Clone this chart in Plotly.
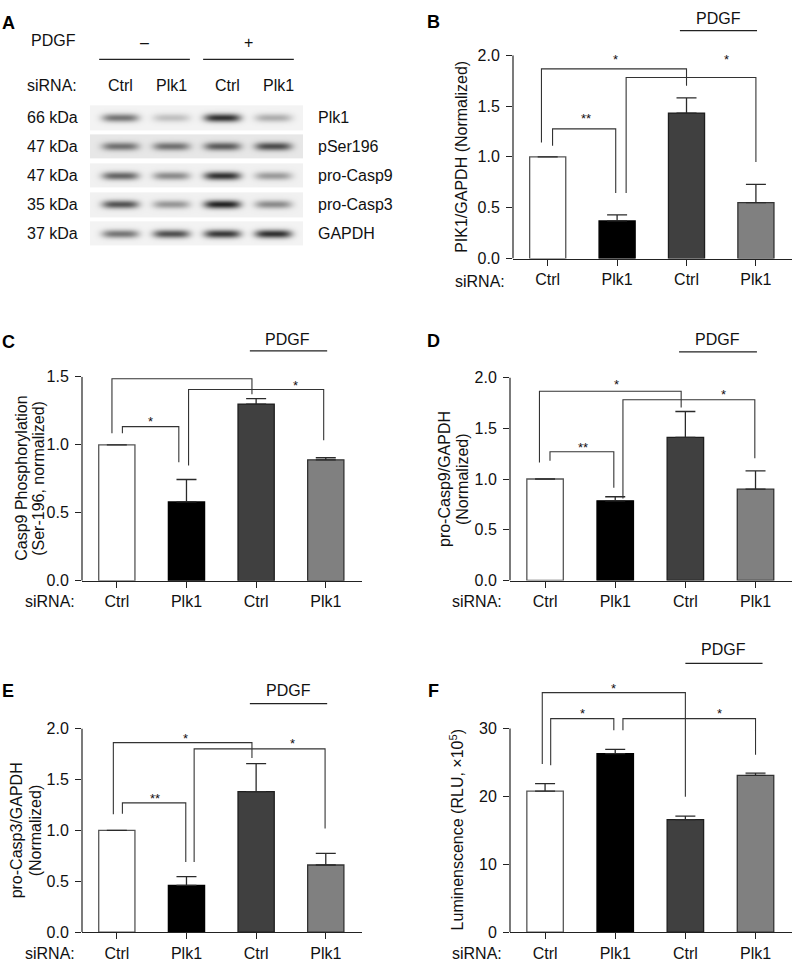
import numpy as np
import plotly.graph_objects as go

W, H = 792, 972
FONT = "Liberation Sans, Arial, Helvetica, sans-serif"
TXT = "#111111"

# ---------------- data ----------------
categories = ["Ctrl", "Plk1", "Ctrl", "Plk1"]
bar_fill = ["#ffffff", "#000000", "#404040", "#808080"]
bar_edge = ["#555555", "#000000", "#1e1e1e", "#333333"]

b_values = [1.00, 0.37, 1.43, 0.55]
b_err = [None, 0.06, 0.15, 0.18]
c_values = [1.00, 0.58, 1.30, 0.89]
c_err = [None, 0.165, 0.04, 0.015]
d_values = [1.00, 0.785, 1.41, 0.90]
d_err = [None, 0.04, 0.255, 0.18]
e_values = [1.00, 0.46, 1.38, 0.66]
e_err = [None, 0.085, 0.275, 0.115]
f_values = [20.8, 26.3, 16.6, 23.1]
f_err = [1.1, 0.65, 0.5, 0.35]

# brackets: (x_left, x_right, y_bar, y_leg_left, y_leg_right, star_x, star_y, label)
b_brackets = [(-0.09, 2.00, 1.865, 1.14, 1.70, 0.98, 2.00, "*"),
              (1.13, 3.00, 1.780, 0.645, 0.95, 2.57, 2.00, "*"),
              (0.07, 0.98, 1.275, 1.11, 0.645, 0.55, 1.42, "**")]
c_brackets = [(-0.07, 1.94, 1.486, 1.086, 1.371, 0.98, 1.553, "*"),
              (1.03, 2.97, 1.407, 0.848, 1.033, 2.56, 1.467, "*"),
              (0.08, 0.89, 1.134, 1.086, 0.872, 0.48, 1.202, "*")]
d_brackets = [(-0.08, 1.94, 1.865, 1.162, 1.704, 1.02, 1.969, "*"),
              (1.11, 2.99, 1.781, 0.807, 1.204, 2.55, 1.872, "*"),
              (0.07, 0.98, 1.268, 1.181, 0.914, 0.54, 1.349, "**")]
e_brackets = [(-0.05, 1.94, 1.861, 1.157, 1.711, 0.99, 1.942, "*"),
              (1.11, 2.99, 1.800, 0.689, 1.019, 2.52, 1.887, "*"),
              (0.08, 0.99, 1.270, 1.164, 0.689, 0.55, 1.350, "**")]
f_brackets = [(-0.04, 2.00, 35.3, 24.8, 19.97, 0.98, 36.5, "*"),
              (0.08, 0.98, 31.46, 24.6, 29.77, 0.54, 32.76, "*"),
              (1.11, 3.00, 31.46, 29.77, 26.15, 2.49, 32.76, "*")]

norm_ticks = [0, 0.5, 1.0, 1.5, 2.0]
c_ticks = [0, 0.5, 1.0, 1.5]
f_ticks = [0, 10, 20, 30]

b_title = ["PIK1/GAPDH (Normalized)"]
c_title = ["Casp9 Phosphorylation", "(Ser-196, normalized)"]
d_title = ["pro-Casp9/GAPDH", "(Normalized)"]
e_title = ["pro-Casp3/GAPDH", "(Normalized)"]
f_title = ["Luminenscence (RLU, ×10<sup>5</sup>)"]

# western blot (panel A)
blot_proteins = ["Plk1", "pSer196", "pro-Casp9", "pro-Casp3", "GAPDH"]
blot_kda = ["66 kDa", "47 kDa", "47 kDa", "35 kDa", "37 kDa"]
lane_sirna = ["Ctrl", "Plk1", "Ctrl", "Plk1"]
pdgf_groups = ["–", "+"]
band_intensity = [
    [0.55, 0.22, 0.85, 0.30],
    [0.55, 0.55, 0.65, 0.72],
    [0.62, 0.45, 0.85, 0.38],
    [0.70, 0.40, 0.92, 0.45],
    [0.55, 0.72, 0.82, 0.86],
]
strip_background = [0.05, 0.10, 0.06, 0.06, 0.05]

# ---------------- helpers ----------------
def fx(p):
    return p / W


def fy(p):
    return 1 - p / H


fig = go.Figure()
shapes = []
annotations = []


def text(x, y, s, xref="paper", yref="paper", size=16, xanchor="center", angle=0, bold=False, yshift=0):
    annotations.append(dict(x=x, y=y, xref=xref, yref=yref, text=f"<b>{s}</b>" if bold else s,
                            showarrow=False, xanchor=xanchor, yanchor="middle", textangle=angle,
                            yshift=yshift, font=dict(family=FONT, size=size,
                                                     color="#000" if bold else TXT)))


panels = [
    dict(letter="B", n="", vals=b_values, err=b_err, br=b_brackets, ticks=norm_ticks, fmt=".1f",
         xl=513, xr=792, y0=255, ppu=103.5, top=2.0, title=b_title, tx=[462], letter_xy=(433, 14),
         pdgf=(1.905, 3.016, 2.46, 23, 11), sirna_xy=(480, 278)),
    dict(letter="C", n="2", vals=c_values, err=c_err, br=c_brackets, ticks=c_ticks, fmt=".1f",
         xl=82, xr=362, y0=583, ppu=138.4, top=1.5, title=c_title, tx=[22, 39], letter_xy=(8, 340),
         pdgf=(1.91, 3.02, 2.45, 349, 337), sirna_xy=(50, 604)),
    dict(letter="D", n="3", vals=d_values, err=d_err, br=d_brackets, ticks=norm_ticks, fmt=".1f",
         xl=510, xr=792, y0=582.7, ppu=103.3, top=2.0, title=d_title, tx=[444, 462], letter_xy=(433, 339),
         pdgf=(1.91, 3.02, 2.46, 350, 337), sirna_xy=(477, 604)),
    dict(letter="E", n="4", vals=e_values, err=e_err, br=e_brackets, ticks=norm_ticks, fmt=".1f",
         xl=82, xr=362, y0=940.7, ppu=103.7, top=2.0, title=e_title, tx=[16, 35], letter_xy=(8, 695),
         pdgf=(1.91, 3.02, 2.47, 708, 695), sirna_xy=(50, 962)),
    dict(letter="F", n="5", vals=f_values, err=f_err, br=f_brackets, ticks=f_ticks, fmt="d",
         xl=510, xr=792, y0=940.7, ppu=6.91, top=37.0, title=f_title, tx=[457], letter_xy=(433, 695),
         pdgf=(2.0, 3.1, 2.54, 667, 653), sirna_xy=(477, 962)),
]

layout_axes = {}
for p in panels:
    n = p["n"]
    xa, ya = "x" + n, "y" + n
    xkey, ykey = "xaxis" + n, "yaxis" + n
    fig.add_trace(go.Bar(
        x=list(range(len(categories))), y=p["vals"], xaxis=xa, yaxis=ya, width=0.52,
        marker=dict(color=bar_fill, line=dict(color=bar_edge, width=1.3)),
        error_y=dict(type="data", symmetric=False, array=p["err"],
                     arrayminus=[0 if e is not None else None for e in p["err"]],
                     color="#2a2a2a", thickness=1.3, width=10),
        showlegend=False, hoverinfo="skip"))
    ymax_tick = p["ticks"][-1]
    top_px = p["y0"] - p["ppu"] * p["top"]
    layout_axes[xkey] = dict(
        domain=[fx(p["xl"]), fx(p["xr"])], range=[-0.5, 3.52], anchor=ya,
        tickvals=list(range(len(categories))), ticktext=categories,
        ticks="outside", ticklen=6, tickwidth=1.2, tickcolor="#222",
        showline=True, linecolor="#222", linewidth=1.2, showgrid=False, zeroline=False,
        tickfont=dict(family=FONT, size=16, color=TXT), ticklabelstandoff=0, fixedrange=True)
    layout_axes[ykey] = dict(
        domain=[fy(p["y0"]), fy(top_px)], range=[0, p["top"]], anchor=xa,
        tickvals=p["ticks"], tickformat=p["fmt"],
        ticks="outside", ticklen=6, tickwidth=1.2, tickcolor="#222",
        showline=False, showgrid=False, zeroline=False,
        tickfont=dict(family=FONT, size=16, color=TXT), ticklabelstandoff=3, fixedrange=True)
    # y-axis line from 0 to the last tick
    shapes.append(dict(type="line", xref=xa + " domain", yref=ya, x0=0, x1=0, y0=0, y1=ymax_tick,
                       line=dict(color="#222", width=1.2)))
    # significance brackets
    for (x0, x1, yb, l0, l1, sx, sy, lab) in p["br"]:
        shapes.append(dict(type="path", xref=xa, yref=ya,
                           path=f"M {x0},{l0} L {x0},{yb} L {x1},{yb} L {x1},{l1}",
                           line=dict(color="#333", width=1.1)))
        text(sx, sy, lab, xref=xa, yref=ya, size=13, yshift=-4)
    # PDGF label
    lx0, lx1, tx_c, line_px, text_px = p["pdgf"]
    shapes.append(dict(type="line", xref=xa, yref="paper", x0=lx0, x1=lx1,
                       y0=fy(line_px), y1=fy(line_px), line=dict(color="#222", width=1.2)))
    text(tx_c, fy(text_px), "PDGF", xref=xa)
    # siRNA row label
    sx_, sy_ = p["sirna_xy"]
    text(fx(sx_), fy(sy_), "siRNA:")
    # y title lines
    ymid = fy(p["y0"] - p["ppu"] * ymax_tick / 2)
    for line_txt, lx_ in zip(p["title"], p["tx"]):
        text(fx(lx_), ymid, line_txt, angle=-90)
    # panel letter
    lx, ly = p["letter_xy"]
    text(fx(lx), fy(ly), p["letter"], size=18, bold=True)

# ---------------- panel A : western blot ----------------
n_rows, n_lanes = len(blot_proteins), len(lane_sirna)
bx_range = [-0.59, n_lanes - 1 + 0.59]
by_range = [n_rows - 1 + 0.47, -0.51]
gx = np.linspace(bx_range[0], bx_range[1], 214)
gy = np.linspace(by_range[1], by_range[0], 148)
X, Y = np.meshgrid(gx, gy)
Z = np.zeros_like(X)
inten = np.array(band_intensity)
for r in range(n_rows):
    strip = np.abs(Y - r) < 0.42
    Z = np.where(strip, np.maximum(Z, strip_background[r]), Z)
    for l in range(n_lanes):
        band = inten[r, l] * np.exp(-np.abs((X - l) / 0.36) ** 4) * np.exp(-((Y - r) / 0.14) ** 2)
        Z = np.where(strip, Z + band * (1 - Z), Z)
fig.add_trace(go.Heatmap(x=gx, y=gy, z=Z, xaxis="x6", yaxis="y6", zmin=0, zmax=1,
                         colorscale=[[0, "#ffffff"], [1, "#101010"]], showscale=False,
                         zsmooth="best", hoverinfo="skip"))
layout_axes["xaxis6"] = dict(domain=[fx(90), fx(303)], range=bx_range, anchor="y6",
                             visible=False, fixedrange=True)
layout_axes["yaxis6"] = dict(domain=[fy(243), fy(96)], range=by_range, anchor="x6",
                             visible=False, fixedrange=True)

for r in range(n_rows):
    text(fx(52), r, blot_kda[r], yref="y6")
    text(fx(316), r, blot_proteins[r], yref="y6", xanchor="left")
for l in range(n_lanes):
    text(l + (0.1 if l >= 2 else 0.0), fy(79), lane_sirna[l], xref="x6")
text(fx(52), fy(79), "siRNA:")
text(fx(53), fy(33), "PDGF")
for g, (gx0, gx1) in enumerate([(-0.41, 1.37), (1.63, 3.41)]):
    text((gx0 + gx1) / 2, fy(35), pdgf_groups[g], xref="x6")
    shapes.append(dict(type="line", xref="x6", yref="paper", x0=gx0, x1=gx1,
                       y0=fy(52.3), y1=fy(52.3), line=dict(color="#222", width=1.2)))
text(fx(8), fy(15), "A", size=18, bold=True)

fig.update_layout(
    width=W, height=H, margin=dict(l=0, r=0, t=0, b=0),
    paper_bgcolor="white", plot_bgcolor="rgba(0,0,0,0)",
    font=dict(family=FONT, size=16, color=TXT),
    shapes=shapes, annotations=annotations, showlegend=False, bargap=0.48,
    **layout_axes)

fig.write_html("out.html", config={"displayModeBar": False},
               post_script="document.body.style.margin='0px';document.body.style.overflow='hidden';")
